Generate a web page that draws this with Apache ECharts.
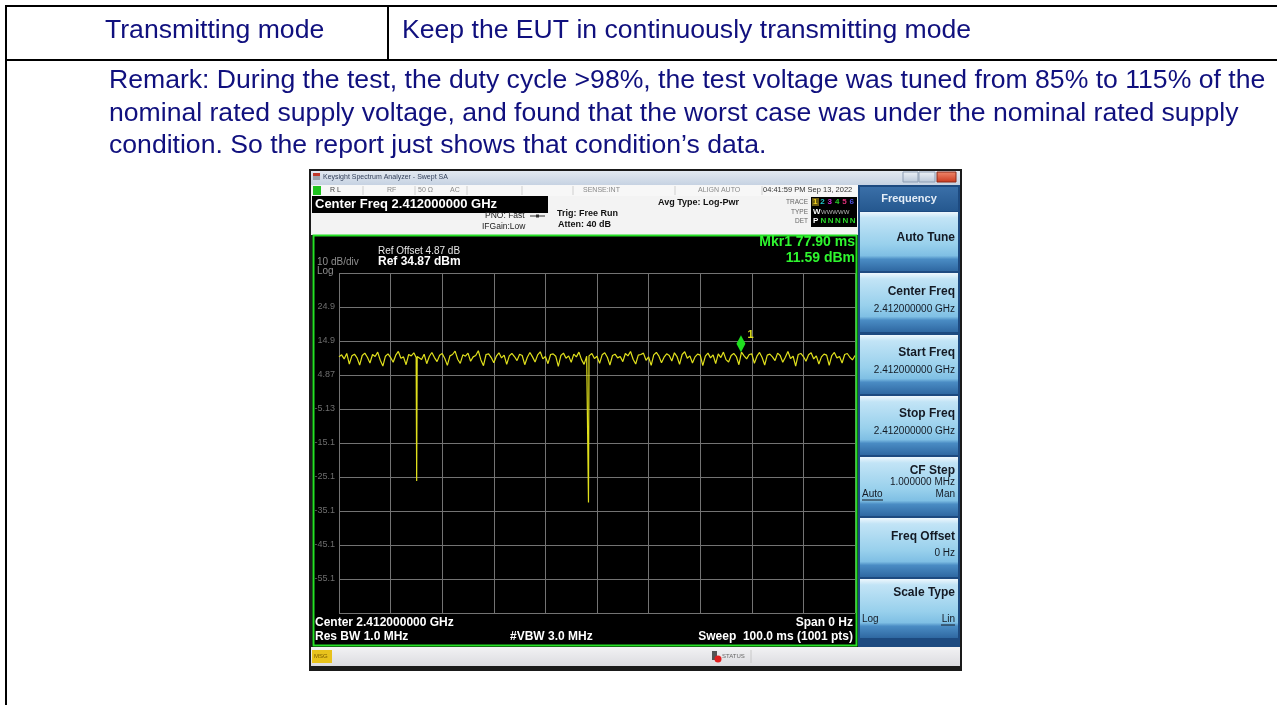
<!DOCTYPE html>
<html>
<head>
<meta charset="utf-8">
<script src="https://cdn.jsdelivr.net/npm/echarts@6/dist/echarts.min.js"></script>
<style>
html,body{margin:0;padding:0;background:#fff;}
#chart{width:1277px;height:705px;}
</style>
</head>
<body>
<div id="chart"></div>
<script>
// ---------------- data ----------------
const sweepMs = 100;
const refLevelDbm = 34.87;
const dbPerDiv = 10;
const yTickLabels = ['24.9','14.9','4.87','-5.13','-15.1','-25.1','-35.1','-45.1','-55.1'];
const markerTimeMs = 77.90;
const markerLevelDbm = 11.59;
// zero-span trace, one value per 0.5 ms (dBm)
const traceDbm = [
  10.2, 10.8, 9.6, 11.2, 8.1, 10.5, 11.0, 9.9, 7.8, 10.6,
  11.3, 10.1, 8.4, 10.9, 10.3, 11.6, 9.2, 7.5, 10.4, 11.1,
  10.0, 8.6, 10.7, 11.8, 9.8, 10.2, 7.9, 10.9, 10.5, 11.4,
  10.1, 10.6, 9.4, 11.0, 8.2, 10.3, 11.5, 10.0, 8.8, 10.7,
  11.2, 9.7, 7.7, 10.5, 10.9, 11.9, 9.5, 8.3, 10.8, 10.4,
  11.3, 8.9, 10.2, 10.6, 12.0, 9.3, 7.6, 10.9, 11.1, 10.0,
  8.5, 10.4, 11.4, 9.9, 10.7, 8.0, 10.5, 11.2, 10.3, 9.1,
  11.0, 10.6, 7.9, 10.1, 11.5, 10.2, 8.7, 10.8, 11.7, 9.6,
  10.3, 8.2, 10.9, 11.1, 10.4, 7.4, 10.6, 11.3, 9.8, 10.5,
  8.6, 11.0, 10.2, 11.6, 9.4, 8.0, 10.4, 10.7, 11.2, 9.7,
  10.4, 8.3, 10.8, 11.4, 10.1, 7.8, 10.6, 11.0, 9.9, 10.3,
  8.8, 11.2, 10.5, 11.8, 9.5, 8.1, 10.7, 10.9, 11.3, 9.2,
  10.2, 7.7, 10.8, 11.5, 10.4, 8.5, 10.1, 11.1, 10.6, 9.0,
  11.4, 10.3, 8.0, 10.9, 11.7, 9.8, 10.5, 8.4, 10.2, 11.0,
  10.7, 7.6, 10.4, 11.3, 9.9, 10.8, 8.2, 11.1, 10.0, 11.6,
  9.4, 8.7, 10.6, 11.2, 10.3, 7.9, 11.59, 10.5, 9.6, 10.9,
  11.1, 8.3, 10.4, 11.5, 10.0, 7.8, 10.7, 11.0, 10.2, 9.1,
  11.3, 10.6, 8.6, 10.1, 11.8, 9.7, 10.4, 7.5, 10.9, 11.2,
  10.3, 8.9, 10.8, 11.4, 9.6, 10.5, 8.1, 10.2, 11.0, 10.7,
  7.7, 10.6, 11.5, 9.9, 10.3, 8.4, 10.9, 11.2, 10.1, 9.3,
  10.6
];
// the two narrow drop-outs, as [time ms, dBm] samples at full sweep resolution
const dropOutSamples = [
  [14.95, 10.0], [15.05, -26.3], [15.15, 10.3],
  [48.25, 10.2], [48.35, -32.6], [48.45, 10.5]
];

// ---------------- helpers ----------------
const FF = '"Liberation Sans", Arial, sans-serif';
function T(text, x, y, size, color, opt) {
  opt = opt || {};
  return {type:'text', x:x, y:y, z:100, silent:true,
    style:{text:text, fill:color, font:(opt.bold?'bold ':'') + size + 'px ' + FF,
      align:opt.align||'left', verticalAlign:'middle'}};
}
function R(x, y, w, h, fill, z, extra) {
  const s = Object.assign({fill:fill}, extra||{});
  return {type:'rect', z:(z===undefined?-10:z), silent:true, shape:{x:x,y:y,width:w,height:h}, style:s};
}
function L(x1, y1, x2, y2, color, w, z) {
  return {type:'line', z:(z===undefined?50:z), silent:true, shape:{x1:x1,y1:y1,x2:x2,y2:y2}, style:{stroke:color, lineWidth:w}};
}
const G = (stops) => new echarts.graphic.LinearGradient(0,0,0,1, stops.map(s=>({offset:s[0], color:s[1]})));

const navy = '#10107e';
const DOC = 26.6;
const g = [];
// ---- document table ----
g.push(L(5, 6, 1277, 6, '#000', 2));
g.push(L(5, 60, 1277, 60, '#000', 2));
g.push(L(6, 5, 6, 705, '#000', 2));
g.push(L(388, 6, 388, 60, '#000', 2));
g.push(T('Transmitting mode', 105, 31, DOC, navy));
g.push(T('Keep the EUT in continuously transmitting mode', 402, 31, DOC, navy));
g.push(T('Remark: During the test, the duty cycle >98%, the test voltage was tuned from 85% to 115% of the', 109, 81, DOC, navy));
g.push(T('nominal rated supply voltage, and found that the worst case was under the nominal rated supply', 109, 113.5, DOC, navy));
g.push(T('condition. So the report just shows that condition\u2019s data.', 109, 146, DOC, navy));

// ---- screenshot frame ----
g.push(R(309, 169, 653, 502, '#1a1a1a', -30));
// title bar
g.push(R(311, 171, 649, 14, G([[0,'#e3e9f1'],[1,'#c6d2e2']]), -20));
g.push(R(313, 173, 7, 3, '#c0392b', -19));
g.push(R(313, 176, 7, 4, '#9aa3ad', -19));
g.push(T('Keysight Spectrum Analyzer - Swept SA', 323, 177, 7, '#33405a'));
g.push(R(903, 172, 15, 10, G([[0,'#eef2f7'],[1,'#b8c6d8']]), -19, {stroke:'#8d9db3', lineWidth:1}));
g.push(R(919, 172, 16, 10, G([[0,'#eef2f7'],[1,'#b8c6d8']]), -19, {stroke:'#8d9db3', lineWidth:1}));
g.push(R(937, 172, 19, 10, G([[0,'#f08a6e'],[1,'#c9371d']]), -19, {stroke:'#8b2a1a', lineWidth:1}));
// status row
g.push(R(311, 185, 547, 11, '#f7f7f7', -20));
g.push(R(313, 186, 8, 9, '#1fc21f', -19));
[363, 415, 467, 522, 573, 675, 762].forEach(x => g.push(L(x, 186, x, 195, '#cfcfcf', 1, -15)));
g.push(T('R L', 330, 190, 7, '#444'));
g.push(T('RF', 387, 190, 7, '#888'));
g.push(T('50 \u03a9', 418, 190, 7, '#888'));
g.push(T('AC', 450, 190, 7, '#888'));
g.push(T('SENSE:INT', 583, 190, 7, '#888'));
g.push(T('ALIGN AUTO', 698, 190, 7, '#888'));
g.push(T('04:41:59 PM Sep 13, 2022', 763, 190, 7.5, '#333'));
// header area
g.push(R(311, 196, 547, 39, '#f3f3f3', -20));
g.push(R(312, 196, 236, 17, '#000', -19));
g.push(T('Center Freq 2.412000000 GHz', 315, 204.5, 13, '#fff', {bold:true}));
g.push(T('PNO: Fast', 485, 216, 8.5, '#222'));
g.push(L(530, 216, 545, 216, '#333', 1, 60));
g.push(R(536, 214.5, 3, 3, '#333', 61));
g.push(T('IFGain:Low', 482, 226.5, 8.5, '#222'));
g.push(T('Trig: Free Run', 557, 214, 9, '#111', {bold:true}));
g.push(T('Atten: 40 dB', 558, 225, 9, '#111', {bold:true}));
g.push(T('Avg Type: Log-Pwr', 658, 203, 9, '#111', {bold:true}));
g.push(T('TRACE', 808, 202, 6.5, '#666', {align:'right'}));
g.push(T('TYPE', 808, 212, 6.5, '#666', {align:'right'}));
g.push(T('DET', 808, 221, 6.5, '#666', {align:'right'}));
g.push(R(811, 197, 46, 30, '#000', -19));
g.push(R(812, 198, 7, 8, '#6b5a10', -18));
const trCols = ['#f0d020','#20c8c8','#d828d8','#28c828','#e0307a','#5050e0'];
trCols.forEach((c, i) => g.push(T(String(i+1), 813 + i*7.3, 202, 8, c, {bold:true})));
g.push(T('W', 813, 212, 8, '#fff', {bold:true}));
g.push(T('WWWWW', 821, 212, 6, '#bbb'));
g.push(T('P', 813, 221, 8, '#fff', {bold:true}));
['N','N','N','N','N'].forEach((n, i) => g.push(T(n, 820.5 + i*7.3, 221, 8, '#28d828', {bold:true})));
// plot black area
g.push(R(312, 235, 546, 412, '#000', -20));
g.push(R(313.5, 235.5, 543, 410, 'none', 40, {stroke:'#25e025', lineWidth:2}));
g.push(T('Ref Offset 4.87 dB', 378, 251, 10, '#e6e6e6'));
g.push(T('Ref 34.87 dBm', 378, 262, 12, '#fff', {bold:true}));
g.push(T('10 dB/div', 317, 262, 10, '#8f8f8f'));
g.push(T('Log', 317, 271, 10, '#8f8f8f'));
g.push(T('Mkr1 77.90 ms', 855, 242, 14, '#2ff52f', {bold:true, align:'right'}));
g.push(T('11.59 dBm', 855, 258, 14, '#2ff52f', {bold:true, align:'right'}));
g.push(T('Center 2.412000000 GHz', 315, 623, 12, '#fff', {bold:true}));
g.push(T('Res BW 1.0 MHz', 315, 637, 12, '#fff', {bold:true}));
g.push(T('#VBW 3.0 MHz', 510, 637, 12, '#fff', {bold:true}));
g.push(T('Span 0 Hz', 853, 623, 12, '#fff', {bold:true, align:'right'}));
g.push(T('Sweep  100.0 ms (1001 pts)', 853, 637, 12, '#fff', {bold:true, align:'right'}));
// bottom status bar
g.push(R(311, 647, 649, 19, G([[0,'#f2f2f4'],[1,'#dcdce0']]), -20));
g.push(R(312, 650, 20, 13, '#e8c21c', -19));
g.push(T('MSG', 314, 656.5, 6, '#7a5a00'));
g.push(R(712, 651, 5, 9, '#555', -19));
g.push({type:'circle', z:-18, silent:true, shape:{cx:718, cy:659, r:3.5}, style:{fill:'#e02020'}});
g.push(T('STATUS', 722, 656.5, 6, '#666'));
g.push(L(751, 650, 751, 663, '#c8c8c8', 1, -15));
// right soft-key panel
g.push(R(858, 185, 102, 462, '#1d4a80', -20));
g.push(R(860, 187, 98, 24, G([[0,'#3a6fa8'],[1,'#25588f']]), -19));
g.push(T('Frequency', 909, 198.5, 11, '#e4edf7', {bold:true, align:'center'}));
const btnTops = [212, 273, 335, 396, 457, 518, 579];
btnTops.forEach(t => g.push(R(860, t, 98, 59,
  G([[0,'#eef7fd'],[0.1,'#c2e4f6'],[0.55,'#98d0ec'],[0.74,'#7fbfe4'],[0.8,'#4a8cc4'],[1,'#2f68a2']]), -19)));
const BTXT = '#141a24';
g.push(T('Auto Tune', 955, 238, 12, BTXT, {bold:true, align:'right'}));
g.push(T('Center Freq', 955, 292, 12, BTXT, {bold:true, align:'right'}));
g.push(T('2.412000000 GHz', 955, 309, 10, BTXT, {align:'right'}));
g.push(T('Start Freq', 955, 353, 12, BTXT, {bold:true, align:'right'}));
g.push(T('2.412000000 GHz', 955, 370, 10, BTXT, {align:'right'}));
g.push(T('Stop Freq', 955, 414, 12, BTXT, {bold:true, align:'right'}));
g.push(T('2.412000000 GHz', 955, 431, 10, BTXT, {align:'right'}));
g.push(T('CF Step', 955, 471, 12, BTXT, {bold:true, align:'right'}));
g.push(T('1.000000 MHz', 955, 482, 10, BTXT, {align:'right'}));
g.push(T('Auto', 862, 494, 10, BTXT));
g.push(L(862, 500, 883, 500, BTXT, 1, 100));
g.push(T('Man', 955, 494, 10, BTXT, {align:'right'}));
g.push(T('Freq Offset', 955, 537, 12, BTXT, {bold:true, align:'right'}));
g.push(T('0 Hz', 955, 553, 10, BTXT, {align:'right'}));
g.push(T('Scale Type', 955, 593, 12, BTXT, {bold:true, align:'right'}));
g.push(T('Log', 862, 619, 10, BTXT));
g.push(T('Lin', 955, 619, 10, BTXT, {align:'right'}));
g.push(L(941, 625, 955, 625, BTXT, 1, 100));

// ---------------- chart ----------------
const traceData = traceDbm.map((v, i) => [i * sweepMs / (traceDbm.length - 1), v])
  .concat(dropOutSamples)
  .sort((a, b) => a[0] - b[0])
  .map(p => [p[0], p[1] - refLevelDbm]);
const gridColor = '#737373';
const chart = echarts.init(document.getElementById('chart'), null, {renderer:'canvas'});
chart.setOption({
  animation: false,
  backgroundColor: '#fff',
  grid: {left: 339, top: 273, width: 516, height: 340, containLabel: false},
  xAxis: {type:'value', min:0, max:sweepMs, interval:sweepMs/10,
    axisLine:{show:false}, axisTick:{show:false}, axisLabel:{show:false},
    splitLine:{show:true, lineStyle:{color:gridColor, width:1}}},
  yAxis: {type:'value', min:-10*dbPerDiv, max:0, interval:dbPerDiv,
    axisLine:{show:false}, axisTick:{show:false},
    axisLabel:{show:true, color:'#6e6e6e', fontSize:9, fontFamily:FF, margin:4,
      formatter: function (v) {
        const idx = Math.round(-v / dbPerDiv) - 1;
        return (idx >= 0 && idx < yTickLabels.length) ? yTickLabels[idx] : '';
      }},
    splitLine:{show:true, lineStyle:{color:gridColor, width:1}}},
  series: [{
    type:'line', data: traceData, showSymbol:false, symbol:'none',
    lineStyle:{color:'#e0e01c', width:1.2},
    markPoint:{
      symbol:'diamond', symbolSize:[9,17], symbolOffset:[0,'-50%'],
      itemStyle:{color:'#1fe01f'},
      label:{show:true, formatter:'1', position:[11,-6], color:'#e0e01c', fontSize:11, fontWeight:'bold', fontFamily:FF},
      data:[{coord:[markerTimeMs, markerLevelDbm - refLevelDbm]}]
    }
  }],
  graphic: g
});
</script>
</body>
</html>
